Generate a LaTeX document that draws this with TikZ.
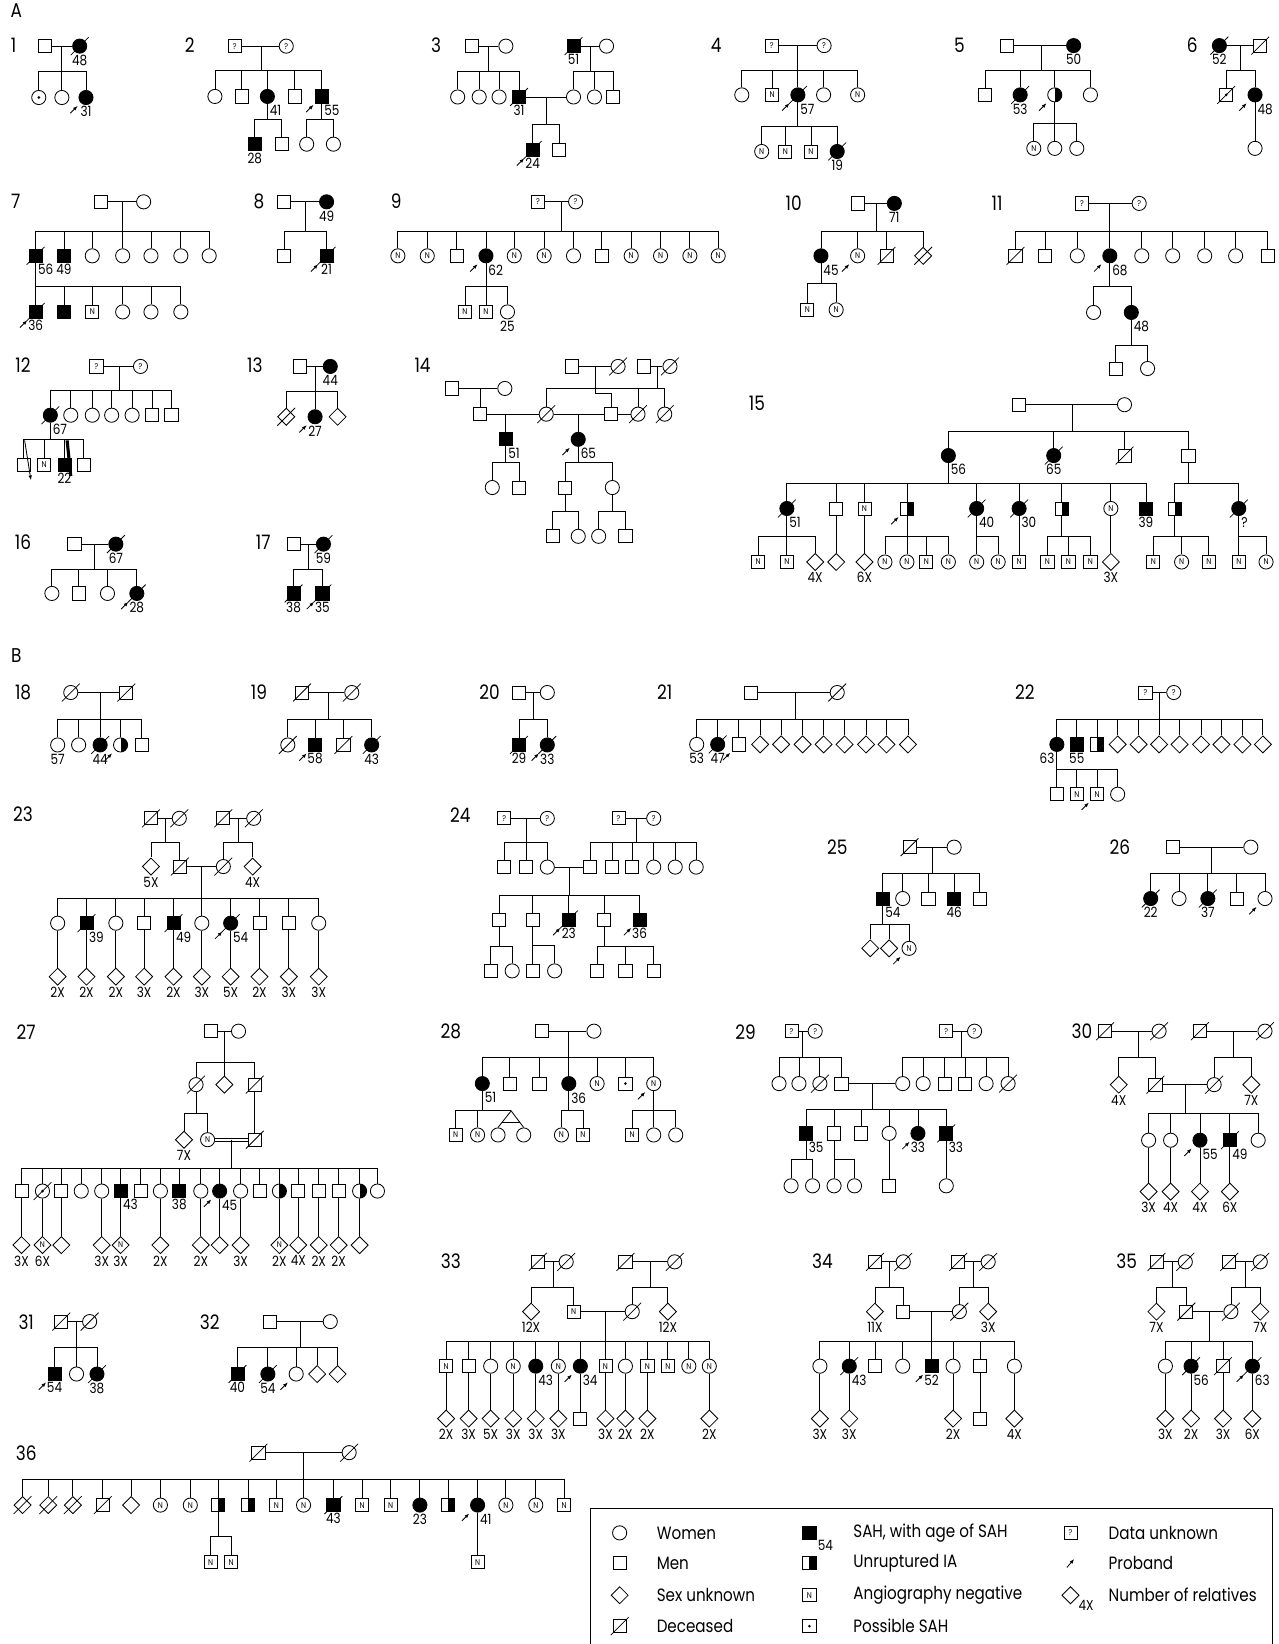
\documentclass[tikz,border=0pt]{standalone}
\usepackage{fontspec}
\setmainfont{Poppins}[FakeStretch=0.85]
\usetikzlibrary{arrows.meta,shapes.geometric,calc}
\newcommand\agef{\fontsize{13.5}{14}\selectfont}
\newcommand\symf{\fontsize{8}{8}\selectfont}
\newcommand\pnf{\fontsize{19}{20}\selectfont}
\newcommand\legf{\fontsize{17}{18}\selectfont}
% sibship: drop from #1 to bar at height #2, then down to each child in #3
\newcommand\sibs[3]{\draw (#1) -- (#1 |- 0,#2) coordinate (sb);
  \foreach \k in {#3} \draw (sb) -| (\k);}

\begin{document}
\begin{tikzpicture}[x=1pt,y=-1pt,line width=0.8pt,
 fe/.style={circle,draw,fill=white,minimum size=13.5pt,inner sep=0pt,font=\symf},
 ma/.style={rectangle,draw,fill=white,minimum size=12.5pt,inner sep=0pt,font=\symf},
 un/.style={diamond,draw,fill=white,minimum size=16.5pt,inner sep=0pt,font=\symf},
 af/.style={fill=black},
 hf/.style={path picture={\fill[black] (path picture bounding box.north) rectangle (path picture bounding box.south east);}},
 dt/.style={path picture={\fill[black] (path picture bounding box.center) circle (1.4pt);}},
 sl/.style={-,line width=0.7pt},
 pa/.style={-{Latex[length=4.5pt,width=3.5pt]},line width=0.8pt},
 de/.style={append after command={($(\tikzlastnode.center)+(-8.5,8.5)$) edge[sl] ($(\tikzlastnode.center)+(8.5,-8.5)$)}},
 pb/.style={append after command={($(\tikzlastnode.center)+(-15,15)$) edge[pa] ($(\tikzlastnode.center)+(-8,8)$)}},
 lab/.style={font=\agef,inner sep=1pt},
 ab/.style={label={[lab]below:#1}},
 ar/.style={label={[lab,anchor=north west,xshift=1pt]south:#1}},
 al/.style={label={[lab,anchor=north east,xshift=-1pt]south:#1}},
 num/.style={font=\pnf,inner sep=0pt},
 leg/.style={font=\legf,anchor=west,inner sep=0pt}]
\useasboundingbox (0,0) rectangle (1219,1568);
\node[num] (hA) at (15.5,10) {A};
\node[num] (hB) at (15.5,625) {B};

% ---------- 1
\node[num] (n1) at (13,43) {1};
\node[ma] (p1a) at (43,44) {};
\node[fe,af,de,ab=48] (p1b) at (76,44) {};
\node[fe,dt] (p1c) at (37,93) {};
\node[fe] (p1d) at (59,93) {};
\node[fe,af,pb,ab=31] (p1e) at (82,93) {};
\coordinate (p1m) at (59,44);
\draw (p1a) -- (p1b);
\sibs{p1m}{68}{p1c,p1d,p1e}

% ---------- 2
\node[num] (n2) at (181,43) {2};
\node[ma] (p2a) at (224,44) {?};
\node[fe] (p2b) at (273,44) {?};
\node[fe] (p2c1) at (205,92) {};
\node[ma] (p2c2) at (230.5,92) {};
\node[fe,af,ar=41] (p2c3) at (255,92) {};
\node[ma] (p2c4) at (281,92) {};
\node[ma,af,pb,ar=55] (p2c5) at (307,92) {};
\node[ma,af,ab=28] (p2g1) at (243,137.5) {};
\node[ma] (p2g2) at (268.5,137.5) {};
\node[fe] (p2g3) at (292.5,137.5) {};
\node[fe] (p2g4) at (318,137.5) {};
\coordinate (p2m) at (249,44);
\draw (p2a) -- (p2b);
\sibs{p2m}{67}{p2c1,p2c2,p2c3,p2c4,p2c5}
\sibs{p2c3.south}{114}{p2g1,p2g2}
\sibs{p2c5.south}{114}{p2g3,p2g4}

% ---------- 3
\node[num] (n3) at (416,43) {3};
\node[ma] (p3a) at (450,44) {};
\node[fe] (p3b) at (482.5,44) {};
\node[ma,af,de,ab=51] (p3d) at (547,44) {};
\node[fe] (p3e) at (578.5,44) {};
\node[fe] (p3c1) at (436.5,92.5) {};
\node[fe] (p3c2) at (457,92.5) {};
\node[fe] (p3c3) at (476,92.5) {};
\node[ma,af,de,ab=31] (p3c4) at (495,92.5) {};
\node[fe] (p3f1) at (547,92.5) {};
\node[fe] (p3f2) at (567,92.5) {};
\node[ma] (p3f3) at (585,92.5) {};
\node[ma,af,de,pb,ab=24] (p3g1) at (508,143) {};
\node[ma] (p3g2) at (533.5,143) {};
\coordinate (p3m1) at (466,44);
\coordinate (p3m2) at (563,44);
\coordinate (p3m3) at (521,92.5);
\draw (p3a) -- (p3b);
\draw (p3d) -- (p3e);
\draw (p3c4) -- (p3f1);
\sibs{p3m1}{68}{p3c1,p3c2,p3c3,p3c4}
\sibs{p3m2}{68}{p3f1,p3f2,p3f3}
\sibs{p3m3}{118.5}{p3g1,p3g2}

% ---------- 4
\node[num] (n4) at (683,43) {4};
\node[ma] (p4a) at (736,43.5) {?};
\node[fe] (p4b) at (786,43.5) {?};
\node[fe] (p4c1) at (707.5,90.5) {};
\node[ma] (p4c2) at (736.5,90.5) {N};
\node[fe,af,de,pb,ar=57] (p4c3) at (761,90.5) {};
\node[fe] (p4c4) at (785.5,90.5) {};
\node[fe] (p4c5) at (818,90.5) {N};
\node[fe] (p4g1) at (726.5,144.5) {N};
\node[ma] (p4g2) at (749,144.5) {N};
\node[ma] (p4g3) at (773.5,144.5) {N};
\node[fe,af,de,ab=19] (p4g4) at (798.5,144.5) {};
\coordinate (p4m) at (761,43.5);
\draw (p4a) -- (p4b);
\sibs{p4m}{67}{p4c1,p4c2,p4c3,p4c4,p4c5}
\sibs{p4c3.south}{121}{p4g1,p4g2,p4g3,p4g4}

% ---------- 5
\node[num] (n5) at (915,43) {5};
\node[ma] (p5a) at (960,43.5) {};
\node[fe,af,ab=50] (p5b) at (1024,43.5) {};
\node[ma] (p5c1) at (939.5,90.5) {};
\node[fe,af,de,ab=53] (p5c2) at (973,90.5) {};
\node[fe,hf,pb] (p5c3) at (1006,90.5) {};
\node[fe] (p5c4) at (1040,90.5) {};
\node[fe] (p5g1) at (986,141.5) {N};
\node[fe] (p5g2) at (1006,141.5) {};
\node[fe] (p5g3) at (1027,141.5) {};
\coordinate (p5m) at (993,43.5);
\draw (p5a) -- (p5b);
\sibs{p5m}{67}{p5c1,p5c2,p5c3,p5c4}
\sibs{p5c3.south}{117.5}{p5g1,p5g2,p5g3}

% ---------- 6
\node[num] (n6) at (1137,43) {6};
\node[fe,af,de,ab=52] (p6a) at (1163,43.5) {};
\node[ma,de] (p6b) at (1202,43.5) {};
\node[ma,de,dt] (p6c1) at (1169.5,90.5) {};
\node[fe,af,pb,ar=48] (p6c2) at (1197,90.5) {};
\node[fe] (p6g1) at (1197,141.5) {};
\coordinate (p6m) at (1183.5,43.5);
\draw (p6a) -- (p6b);
\sibs{p6m}{67.5}{p6c1,p6c2}
\draw (p6c2) -- (p6g1);

% ---------- 7
\node[num] (n7) at (15,192) {7};
\node[ma] (p7a) at (96,192.5) {};
\node[fe] (p7b) at (137,192.5) {};
\node[ma,af,de,ar=56] (p7c1) at (34,244) {};
\node[ma,af,ab=49] (p7c2) at (61,244) {};
\node[fe] (p7c3) at (88,244) {};
\node[fe] (p7c4) at (117,244) {};
\node[fe] (p7c5) at (144,244) {};
\node[fe] (p7c6) at (172.5,244) {};
\node[fe] (p7c7) at (199.5,244) {};
\node[ma,af,de,pb,ab=36] (p7g1) at (34,297.5) {};
\node[ma,af] (p7g2) at (61,297.5) {};
\node[ma] (p7g3) at (88,297.5) {N};
\node[fe] (p7g4) at (117,297.5) {};
\node[fe] (p7g5) at (144,297.5) {};
\node[fe] (p7g6) at (172.5,297.5) {};
\coordinate (p7m) at (117,192.5);
\draw (p7a) -- (p7b);
\sibs{p7m}{221}{p7c1,p7c2,p7c3,p7c4,p7c5,p7c6,p7c7}
\sibs{p7c1.south}{273.5}{p7g1,p7g2,p7g3,p7g4,p7g5,p7g6}

% ---------- 8
\node[num] (n8) at (247,192) {8};
\node[ma] (p8a) at (271,192.5) {};
\node[fe,af,ab=49] (p8b) at (311.5,192.5) {};
\node[ma] (p8c1) at (271,244) {};
\node[ma,af,de,pb,ab=21] (p8c2) at (311.5,244) {};
\coordinate (p8m) at (291.5,192.5);
\draw (p8a) -- (p8b);
\sibs{p8m}{221}{p8c1,p8c2}

% ---------- 9
\node[num] (n9) at (378,192) {9};
\node[ma] (p9a) at (513,192.5) {?};
\node[fe] (p9b) at (549,192.5) {?};
\node[fe] (p9c1) at (379.5,244) {N};
\node[fe] (p9c2) at (407.5,244) {N};
\node[ma] (p9c3) at (435.5,244) {};
\node[fe,af,pb,ar=62] (p9c4) at (463.5,244) {};
\node[fe] (p9c5) at (490.5,244) {N};
\node[fe] (p9c6) at (519,244) {N};
\node[fe] (p9c7) at (547,244) {};
\node[ma] (p9c8) at (574,244) {};
\node[fe] (p9c9) at (602,244) {N};
\node[fe] (p9c10) at (630,244) {N};
\node[fe] (p9c11) at (658,244) {N};
\node[fe] (p9c12) at (685,244) {N};
\node[ma] (p9g1) at (443.5,297.5) {N};
\node[ma] (p9g2) at (463.5,297.5) {N};
\node[fe,ab=25] (p9g3) at (484,297.5) {};
\coordinate (p9m) at (535.5,192.5);
\draw (p9a) -- (p9b);
\sibs{p9m}{221}{p9c1,p9c2,p9c3,p9c4,p9c5,p9c6,p9c7,p9c8,p9c9,p9c10,p9c11,p9c12}
\sibs{p9c4.south}{273.5}{p9g1,p9g2,p9g3}

% ---------- 10
\node[num] (n10) at (757,194) {10};
\node[ma] (p10a) at (818,194) {};
\node[fe,af,ab=71] (p10b) at (853,194) {};
\node[fe,af,ar=45] (p10c1) at (783,244) {};
\node[fe,pb] (p10c2) at (818,244) {N};
\node[ma,de] (p10c3) at (845.5,244) {};
\node[un,de] (p10c4) at (880.5,244) {};
\node[ma] (p10g1) at (770,295.5) {N};
\node[fe] (p10g2) at (797.5,295.5) {N};
\coordinate (p10m) at (835.5,194);
\draw (p10a) -- (p10b);
\sibs{p10m}{221}{p10c1,p10c2,p10c3,p10c4}
\sibs{p10c1.south}{270}{p10g1,p10g2}

% ---------- 11
\node[num] (n11) at (951,194) {11};
\node[ma] (p11a) at (1032,194) {?};
\node[fe] (p11b) at (1086.5,194) {?};
\node[ma,de] (p11c1) at (968.5,244) {};
\node[ma] (p11c2) at (997,244) {};
\node[fe] (p11c3) at (1027.5,244) {};
\node[fe,af,pb,ar=68] (p11c4) at (1058.5,244) {};
\node[fe] (p11c5) at (1089,244) {};
\node[fe] (p11c6) at (1118.5,244) {};
\node[fe] (p11c7) at (1149,244) {};
\node[fe] (p11c8) at (1178.5,244) {};
\node[ma] (p11c9) at (1209,244) {};
\node[fe] (p11g1) at (1043,298) {};
\node[fe,af,ar=48] (p11g2) at (1079,298) {};
\node[ma] (p11h1) at (1064,351.5) {};
\node[fe] (p11h2) at (1094.5,351.5) {};
\coordinate (p11m) at (1058.5,194);
\draw (p11a) -- (p11b);
\sibs{p11m}{221}{p11c1,p11c2,p11c3,p11c4,p11c5,p11c6,p11c7,p11c8,p11c9}
\sibs{p11c4.south}{273.5}{p11g1,p11g2}
\sibs{p11g2.south}{329}{p11h1,p11h2}

% ---------- 12
\node[num] (n12) at (22,348) {12};
\node[ma] (p12a) at (92,349.5) {?};
\node[fe] (p12b) at (134,349.5) {?};
\node[fe,af,de,ar=67] (p12c1) at (48,396) {};
\node[fe] (p12c2) at (67.5,396) {};
\node[fe] (p12c3) at (88,396) {};
\node[fe] (p12c4) at (106.5,396) {};
\node[fe] (p12c5) at (126,396) {};
\node[ma] (p12c6) at (145,396) {};
\node[ma] (p12c7) at (163.5,396) {};
\node[ma] (p12g1) at (22.5,443) {};
\node[ma] (p12g2) at (42,443) {N};
\node[ma,af,ab=22] (p12g3) at (61.5,443) {};
\node[ma] (p12g4) at (80,443) {};
\coordinate (p12m) at (113.5,349.5);
\draw (p12a) -- (p12b);
\sibs{p12m}{372}{p12c1,p12c2,p12c3,p12c4,p12c5,p12c6,p12c7}
\sibs{p12c1.south}{419.5}{p12g1,p12g2,p12g3,p12g4}
\draw[pa] (23.5,420) -- (29.5,458);
\draw[line width=3pt] (64,420) -- (67.5,454);

% ---------- 13
\node[num] (n13) at (243,348) {13};
\node[ma] (p13a) at (286,349.5) {};
\node[fe,af,ab=44] (p13b) at (315,349.5) {};
\node[un,de] (p13c1) at (273,397.5) {};
\node[fe,af,pb,ab=27] (p13c2) at (300.5,397.5) {};
\node[un] (p13c3) at (322,397.5) {};
\coordinate (p13m) at (300.5,349.5);
\draw (p13a) -- (p13b);
\sibs{p13m}{373.5}{p13c1,p13c2,p13c3}

% ---------- 14
\node[num] (n14) at (403,348) {14};
\node[ma] (p14a) at (545.5,349.5) {};
\node[fe,de] (p14b) at (589.5,349.5) {};
\node[ma] (p14c) at (614.5,349.5) {};
\node[fe,de] (p14d) at (639,349.5) {};
\node[ma] (p14e) at (431,370.5) {};
\node[fe] (p14f) at (481.5,370.5) {};
\node[ma] (p14g) at (458,395) {};
\node[fe,de] (p14h) at (521,395) {};
\node[ma] (p14i) at (583,395) {};
\node[fe,de] (p14j) at (608.5,395) {};
\node[fe,de] (p14k) at (634,395) {};
\node[ma,af,ar=51] (p14l) at (482.5,419) {};
\node[fe,af,pb,ar=65] (p14n) at (551.5,419) {};
\node[fe] (p14o) at (469.5,465) {};
\node[ma] (p14p) at (495,465) {};
\node[ma] (p14q) at (539,465) {};
\node[fe] (p14r) at (584,465) {};
\node[ma] (p14s1) at (527,511.5) {};
\node[fe] (p14s2) at (551.5,511.5) {};
\node[fe] (p14s3) at (571,511.5) {};
\node[ma] (p14s4) at (596.5,511.5) {};
\coordinate (p14m1) at (568,349.5);
\coordinate (p14m2) at (627,349.5);
\coordinate (p14m3) at (458,370.5);
\coordinate (p14m4) at (482.5,395);
\coordinate (p14m5) at (551.5,395);
\draw (p14a) -- (p14b);
\draw (p14c) -- (p14d);
\draw (p14e) -- (p14f);
\draw (p14g) -- (p14h);
\draw (p14h) -- (p14i);
\draw (p14i) -- (p14j);
\sibs{p14m2}{370.5}{p14h,p14j,p14k}
\draw (p14m1) -- ++(0,25.5) -| (p14i);
\draw (p14m3) -- (p14g);
\draw (p14m4) -- (p14l);
\draw (p14m5) -- (p14n);
\sibs{p14l.south}{441.5}{p14o,p14p}
\sibs{p14n.south}{441.5}{p14q,p14r}
\sibs{p14q.south}{488}{p14s1,p14s2}
\sibs{p14r.south}{488}{p14s3,p14s4}

% ---------- 15
\node[num] (n15) at (722,385) {15};
\node[ma] (p15a) at (972,386) {};
\node[fe] (p15b) at (1072.5,386) {};
\node[fe,af,ar=56] (p15c1) at (904.5,434.5) {};
\node[fe,af,de,ab=65] (p15c2) at (1005,434.5) {};
\node[ma,de] (p15c3) at (1072.5,434.5) {};
\node[ma] (p15c4) at (1133.5,434.5) {};
\node[fe,af,de,ar=51] (p15d1) at (750.5,485) {};
\node[ma] (p15d2) at (797.5,485) {};
\node[ma] (p15d3) at (824.5,485) {N};
\node[ma,hf,pb] (p15d4) at (865,485) {};
\node[fe,af,de,ar=40] (p15d5) at (931.5,485) {};
\node[fe,af,de,ar=30] (p15d6) at (972,485) {};
\node[ma,hf] (p15d7) at (1012.5,485) {};
\node[fe] (p15d8) at (1059.5,485) {N};
\node[ma,af,ab=39] (p15d9) at (1093,485) {};
\node[ma,hf] (p15d10) at (1120.5,485) {};
\node[fe,af,de,ar=?] (p15d11) at (1181.5,485) {};
\node[ma] (p15e1) at (723,536) {N};
\node[ma] (p15e2) at (750.5,536) {N};
\node[un,ab=4X] (p15e3) at (777.5,536) {};
\node[un] (p15e4) at (797.5,536) {};
\node[un,ab=6X] (p15e5) at (824.5,536) {};
\node[fe] (p15e6) at (844,536) {N};
\node[fe] (p15e7) at (865,536) {N};
\node[ma] (p15e8) at (883.5,536) {N};
\node[fe] (p15e9) at (904.5,536) {N};
\node[fe] (p15e10) at (931.5,536) {N};
\node[fe] (p15e11) at (952,536) {N};
\node[ma] (p15e12) at (972,536) {N};
\node[ma] (p15e13) at (999,536) {N};
\node[ma] (p15e14) at (1019,536) {N};
\node[ma] (p15e15) at (1040,536) {N};
\node[un,ab=3X] (p15e16) at (1059.5,536) {};
\node[ma] (p15e17) at (1100,536) {N};
\node[fe] (p15e18) at (1127,536) {N};
\node[ma] (p15e19) at (1153,536) {N};
\node[ma] (p15e20) at (1181.5,536) {N};
\node[fe] (p15e21) at (1207.5,536) {N};
\coordinate (p15m) at (1022.5,386);
\draw (p15a) -- (p15b);
\sibs{p15m}{411}{p15c1,p15c2,p15c3,p15c4}
\sibs{p15c1.south}{461}{p15d1,p15d2,p15d3,p15d4,p15d5,p15d6,p15d7,p15d8,p15d9}
\sibs{p15c4.south}{461}{p15d10,p15d11}
\sibs{p15d1.south}{511.5}{p15e1,p15e2,p15e3}
\draw (p15d2) -- (p15e4);
\draw (p15d3) -- (p15e5);
\sibs{p15d4.south}{511.5}{p15e6,p15e7,p15e8,p15e9}
\sibs{p15d5.south}{511.5}{p15e10,p15e11}
\draw (p15d6) -- (p15e12);
\sibs{p15d7.south}{511.5}{p15e13,p15e14,p15e15}
\draw (p15d8) -- (p15e16);
\sibs{p15d10.south}{511.5}{p15e17,p15e18,p15e19}
\sibs{p15d11.south}{511.5}{p15e20,p15e21}

% ---------- 16
\node[num] (n16) at (22,517) {16};
\node[ma] (p16a) at (71,519) {};
\node[fe,af,de,ab=67] (p16b) at (110.5,519) {};
\node[fe] (p16c1) at (49.5,566) {};
\node[ma] (p16c2) at (75,566) {};
\node[fe] (p16c3) at (102.5,566) {};
\node[fe,af,de,pb,ab=28] (p16c4) at (130.5,566) {};
\coordinate (p16m) at (90,519);
\draw (p16a) -- (p16b);
\sibs{p16m}{543}{p16c1,p16c2,p16c3,p16c4}

% ---------- 17
\node[num] (n17) at (251,517) {17};
\node[ma] (p17a) at (280,519) {};
\node[fe,af,de,ab=59] (p17b) at (308.5,519) {};
\node[ma,af,de,ab=38] (p17c1) at (280,566) {};
\node[ma,af,de,pb,ab=35] (p17c2) at (307.5,566) {};
\coordinate (p17m) at (294,519);
\draw (p17a) -- (p17b);
\sibs{p17m}{543}{p17c1,p17c2}

% ---------- 18
\node[num] (n18) at (22,660.5) {18};
\node[fe,de] (p18a) at (67.5,660.5) {};
\node[ma,de] (p18b) at (120.5,660.5) {};
\node[fe,ab=57] (p18c1) at (55,710.5) {};
\node[fe] (p18c2) at (75,710.5) {};
\node[fe,af,de,ab=44] (p18c3) at (95.5,710.5) {};
\node[fe,hf,pb] (p18c4) at (115,710.5) {};
\node[ma] (p18c5) at (135,710.5) {};
\coordinate (p18m) at (95.5,660.5);
\draw (p18a) -- (p18b);
\sibs{p18m}{686}{p18c1,p18c2,p18c3,p18c4,p18c5}

% ---------- 19
\node[num] (n19) at (247,660.5) {19};
\node[ma,de] (p19a) at (288,660.5) {};
\node[fe,de] (p19b) at (335.5,660.5) {};
\node[fe,de] (p19c1) at (274.5,710.5) {};
\node[ma,af,pb,ab=58] (p19c2) at (300.5,710.5) {};
\node[ma,de] (p19c3) at (327.5,710.5) {};
\node[fe,af,de,ab=43] (p19c4) at (354.5,710.5) {};
\coordinate (p19m) at (313.5,660.5);
\draw (p19a) -- (p19b);
\sibs{p19m}{686}{p19c1,p19c2,p19c3,p19c4}

% ---------- 20
\node[num] (n20) at (467,660.5) {20};
\node[ma] (p20a) at (495,660.5) {};
\node[fe] (p20b) at (522,660.5) {};
\node[ma,af,de,ab=29] (p20c1) at (495,710.5) {};
\node[fe,af,de,pb,ab=33] (p20c2) at (522,710.5) {};
\coordinate (p20m) at (508.5,660.5);
\draw (p20a) -- (p20b);
\sibs{p20m}{686}{p20c1,p20c2}

% ---------- 21
\node[num] (n21) at (634,660.5) {21};
\node[ma] (p21a) at (716.5,660.5) {};
\node[fe,de] (p21b) at (798.5,660.5) {};
\node[fe,ab=53] (p21c1) at (664.5,710) {};
\node[fe,af,de,ab=47] (p21c2) at (684.5,710) {};
\node[ma,pb] (p21c3) at (704.5,710) {};
\foreach \x [count=\i from 4] in {725,745,765.5,785.5,805.5,826,845.5,866}
  \node[un] (p21c\i) at (\x,710) {};
\coordinate (p21m) at (759,660.5);
\draw (p21a) -- (p21b);
\sibs{p21m}{686}{p21c1,p21c2,p21c3,p21c4,p21c5,p21c6,p21c7,p21c8,p21c9,p21c10,p21c11}

% ---------- 22
\node[num] (n22) at (977.5,660.5) {22};
\node[ma] (p22a) at (1092.5,660.5) {?};
\node[fe] (p22b) at (1119.5,660.5) {?};
\node[fe,af,al=63] (p22c1) at (1008,710) {};
\node[ma,af,ab=55] (p22c2) at (1027,710) {};
\node[ma,hf] (p22c3) at (1046.5,710) {};
\foreach \x [count=\i from 4] in {1066,1086,1105.5,1125,1145.5,1165,1185,1204.5}
  \node[un] (p22c\i) at (\x,710) {};
\node[ma] (p22g1) at (1008,757.5) {};
\node[ma] (p22g2) at (1027,757.5) {N};
\node[ma,pb] (p22g3) at (1046.5,757.5) {N};
\node[fe] (p22g4) at (1066,757.5) {};
\coordinate (p22m) at (1105.5,660.5);
\draw (p22a) -- (p22b);
\sibs{p22m}{686}{p22c1,p22c2,p22c3,p22c4,p22c5,p22c6,p22c7,p22c8,p22c9,p22c10,p22c11}
\sibs{p22c1.south}{734}{p22g1,p22g2,p22g3,p22g4}

% ---------- 23
\node[num] (n23) at (22,777) {23};
\node[ma,de] (p23a) at (144,780.5) {};
\node[fe,de] (p23b) at (171,780.5) {};
\node[ma,de] (p23e) at (213,780.5) {};
\node[fe,de] (p23f) at (242,780.5) {};
\node[un,ab=5X] (p23c) at (144,826.5) {};
\node[ma,de] (p23d) at (171.5,826.5) {};
\node[fe,de] (p23g) at (213,826.5) {};
\node[un,ab=4X] (p23h) at (241,826.5) {};
\node[fe] (p23k1) at (55,880.5) {};
\node[ma,af,de,ar=39] (p23k2) at (82.5,880.5) {};
\node[fe] (p23k3) at (110.5,880.5) {};
\node[ma] (p23k4) at (137.5,880.5) {};
\node[ma,af,de,ar=49] (p23k5) at (165.5,880.5) {};
\node[fe] (p23k6) at (192.5,880.5) {};
\node[fe,af,de,pb,ar=54] (p23k7) at (220,880.5) {};
\node[ma] (p23k8) at (247.5,880.5) {};
\node[ma] (p23k9) at (275.5,880.5) {};
\node[fe] (p23k10) at (304,880.5) {};
\foreach \x/\n [count=\i] in {55/2X,82.5/2X,110.5/2X,137.5/3X,165.5/2X,192.5/3X,220/5X,247.5/2X,275.5/3X,304/3X}
  {\node[un,ab=\n] (p23q\i) at (\x,931.5) {};
   \draw (p23k\i) -- (p23q\i);}
\coordinate (p23m1) at (157.5,780.5);
\coordinate (p23m2) at (227.5,780.5);
\coordinate (p23m3) at (192.5,826.5);
\draw (p23a) -- (p23b);
\draw (p23e) -- (p23f);
\draw (p23d) -- (p23g);
\sibs{p23m1}{803}{p23c,p23d}
\sibs{p23m2}{803}{p23g,p23h}
\sibs{p23m3}{857}{p23k1,p23k2,p23k3,p23k4,p23k5,p23k6,p23k7,p23k8,p23k9,p23k10}

% ---------- 24
\node[num] (n24) at (439,777) {24};
\node[ma] (p24a) at (481,780.5) {?};
\node[fe] (p24b) at (522,780.5) {?};
\node[ma] (p24c1) at (481,827) {};
\node[ma] (p24c2) at (502,827) {};
\node[fe] (p24c3) at (522,827) {};
\node[ma] (p24f) at (590,780.5) {?};
\node[fe] (p24e) at (623.5,780.5) {?};
\node[ma] (p24d1) at (563,827) {};
\node[ma] (p24d2) at (584,827) {};
\node[ma] (p24d3) at (603,827) {};
\node[fe] (p24d4) at (623.5,827) {};
\node[fe] (p24d5) at (644,827) {};
\node[fe] (p24d6) at (664,827) {};
\node[ma] (p24k1) at (476,877) {};
\node[ma] (p24k2) at (508,877) {};
\node[ma,af,de,pb,ab=23] (p24k3) at (542.5,877) {};
\node[ma] (p24k4) at (576,877) {};
\node[ma,af,pb,ab=36] (p24k5) at (610,877) {};
\node[ma] (p24g1) at (468,926) {};
\node[fe] (p24g2) at (488.5,926) {};
\node[ma] (p24g3) at (508,926) {};
\node[fe] (p24g4) at (529,926) {};
\node[ma] (p24g5) at (569.5,926) {};
\node[ma] (p24g6) at (596.5,926) {};
\node[ma] (p24g7) at (623.5,926) {};
\coordinate (p24m1) at (502,780.5);
\coordinate (p24m2) at (607,780.5);
\coordinate (p24m3) at (543,827);
\draw (p24a) -- (p24b);
\draw (p24f) -- (p24e);
\draw (p24c3) -- (p24d1);
\sibs{p24m1}{803}{p24c1,p24c2,p24c3}
\sibs{p24m2}{803}{p24d1,p24d2,p24d3,p24d4,p24d5,p24d6}
\sibs{p24m3}{854}{p24k1,p24k2,p24k3,p24k4,p24k5}
\sibs{p24k1.south}{903}{p24g1,p24g2}
\sibs{p24k2.south}{901.5}{p24g3,p24g4}
\sibs{p24k4.south}{903}{p24g5,p24g6,p24g7}

% ---------- 25
\node[num] (n25) at (798.5,808) {25};
\node[ma,de] (p25a) at (867.5,808) {};
\node[fe] (p25b) at (910,808) {};
\node[ma,af,ar=54] (p25c1) at (842,857) {};
\node[fe] (p25c2) at (861,857) {};
\node[ma] (p25c3) at (885.5,857) {};
\node[ma,af,ab=46] (p25c4) at (910,857) {};
\node[ma] (p25c5) at (934.5,857) {};
\node[un] (p25g1) at (830,904.5) {};
\node[un] (p25g2) at (848,904.5) {};
\node[fe,pb] (p25g3) at (867,904.5) {N};
\coordinate (p25m) at (889,808);
\draw (p25a) -- (p25b);
\sibs{p25m}{833}{p25c1,p25c2,p25c3,p25c4,p25c5}
\sibs{p25c1.south}{881.5}{p25g1,p25g2,p25g3}

% ---------- 26
\node[num] (n26) at (1068,808) {26};
\node[ma] (p26a) at (1118.5,808) {};
\node[fe] (p26b) at (1193,808) {};
\node[fe,af,de,ab=22] (p26c1) at (1097.5,857) {};
\node[fe] (p26c2) at (1124.5,857) {};
\node[fe,af,de,ab=37] (p26c3) at (1152,857) {};
\node[ma] (p26c4) at (1179.5,857) {};
\node[fe,pb] (p26c5) at (1206.5,857) {};
\coordinate (p26m) at (1155.5,808);
\draw (p26a) -- (p26b);
\sibs{p26m}{833}{p26c1,p26c2,p26c3,p26c4,p26c5}

% ---------- 27
\node[num] (n27) at (25,984) {27};
\node[ma] (p27a) at (201.5,983.5) {};
\node[fe] (p27b) at (227.5,983.5) {};
\node[fe,de] (p27c) at (187,1034.5) {};
\node[un] (p27d) at (214,1034.5) {};
\node[ma,de] (p27e) at (243,1034.5) {};
\node[un,ab=7X] (p27f) at (175.5,1087) {};
\node[fe] (p27g) at (198,1087) {N};
\node[ma,de] (p27h) at (243,1087) {};
\node[ma] (p27k1) at (20.5,1136) {};
\node[fe,de,dt] (p27k2) at (40.5,1136) {};
\node[ma] (p27k3) at (58.5,1136) {};
\node[fe] (p27k4) at (77.5,1136) {};
\node[fe] (p27k5) at (97,1136) {};
\node[ma,af,ar=43] (p27k6) at (115,1136) {};
\node[ma] (p27k7) at (134,1136) {};
\node[fe] (p27k8) at (153,1136) {};
\node[ma,af,ab=38] (p27k9) at (171,1136) {};
\node[fe] (p27k10) at (191.5,1136) {};
\node[fe,af,pb,ar=45] (p27k11) at (209.5,1136) {};
\node[fe] (p27k12) at (229.5,1136) {};
\node[ma] (p27k13) at (247.5,1136) {};
\node[fe,hf] (p27k14) at (266.5,1136) {};
\node[ma] (p27k15) at (284.5,1136) {};
\node[ma] (p27k16) at (304,1136) {};
\node[ma] (p27k17) at (323,1136) {};
\node[fe,hf] (p27k18) at (343,1136) {};
\node[fe] (p27k19) at (360,1136) {};
\node[un,ab=3X] (p27q1) at (20.5,1187.5) {};
\node[un,ab=6X] (p27q2) at (40.5,1187.5) {N};
\node[un] (p27q3) at (58.5,1187.5) {};
\node[un,ab=3X] (p27q4) at (97,1187.5) {};
\node[un,ab=3X] (p27q5) at (115,1187.5) {N};
\node[un,ab=2X] (p27q6) at (153,1187.5) {};
\node[un,ab=2X] (p27q7) at (191.5,1187.5) {};
\node[un] (p27q8) at (209.5,1187.5) {};
\node[un,ab=3X] (p27q9) at (229.5,1187.5) {};
\node[un,ab=2X] (p27q10) at (266.5,1187.5) {N};
\node[un,ab=4X] (p27q11) at (284.5,1187.5) {};
\node[un,ab=2X] (p27q12) at (304,1187.5) {};
\node[un,ab=2X] (p27q13) at (323,1187.5) {};
\node[un] (p27q14) at (343,1187.5) {};
\coordinate (p27m1) at (214,983.5);
\coordinate (p27m2) at (220.5,1087);
\draw (p27a) -- (p27b);
\sibs{p27m1}{1013.5}{p27c,p27d,p27e}
\sibs{p27c.south}{1062}{p27f,p27g}
\draw (p27e) -- (p27h);
\draw[double,double distance=2.2pt] (p27g) -- (p27h);
\sibs{p27m2}{1114}{p27k1,p27k2,p27k3,p27k4,p27k5,p27k6,p27k7,p27k8,p27k9,p27k10,p27k11,p27k12,p27k13,p27k14,p27k15,p27k16,p27k17,p27k18,p27k19}
\foreach \a/\b in {k1/q1,k2/q2,k3/q3,k5/q4,k6/q5,k8/q6,k10/q7,k11/q8,k12/q9,k14/q10,k15/q11,k16/q12,k17/q13,k18/q14}
  \draw (p27\a) -- (p27\b);

% ---------- 28
\node[num] (n28) at (430,984) {28};
\node[ma] (p28a) at (517,983.5) {};
\node[fe] (p28b) at (566.5,983.5) {};
\node[fe,af,ar=51] (p28c1) at (460,1033.5) {};
\node[ma] (p28c2) at (486,1033.5) {};
\node[ma] (p28c3) at (514.5,1033.5) {};
\node[fe,af,ar=36] (p28c4) at (542.5,1033.5) {};
\node[fe] (p28c5) at (569.5,1033.5) {N};
\node[ma,dt] (p28c6) at (596.5,1033.5) {};
\node[fe,pb] (p28c7) at (623.5,1033.5) {N};
\node[ma] (p28g1) at (434.5,1082.5) {N};
\node[fe] (p28g2) at (455.5,1082.5) {N};
\node[fe] (p28t1) at (475,1082.5) {};
\node[fe] (p28t2) at (499.5,1082.5) {};
\node[fe] (p28g3) at (535.5,1082.5) {N};
\node[ma] (p28g4) at (556,1082.5) {N};
\node[ma] (p28g5) at (603,1082.5) {N};
\node[fe] (p28g6) at (623.5,1082.5) {};
\node[fe] (p28g7) at (644.5,1082.5) {};
\coordinate (p28m) at (542.5,983.5);
\coordinate (p28ap) at (487.5,1059.5);
\draw (p28a) -- (p28b);
\sibs{p28m}{1008.5}{p28c1,p28c2,p28c3,p28c4,p28c5,p28c6,p28c7}
\sibs{p28c1.south}{1059.5}{p28g1,p28g2}
\draw (p28c1.south |- p28ap) -- (p28ap);
\draw (p28t1.north) -- (p28ap) -- (p28t2.north);
\draw ($(p28ap)!0.7!(p28t1.north)$) -- ($(p28ap)!0.7!(p28t2.north)$);
\sibs{p28c4.south}{1059.5}{p28g3,p28g4}
\sibs{p28c7.south}{1059.5}{p28g5,p28g6,p28g7}

% ---------- 29
\node[num] (n29) at (711,984) {29};
\node[ma] (p29a) at (755,983.5) {?};
\node[fe] (p29b) at (777.5,983.5) {?};
\node[fe] (p29c1) at (743,1033.5) {};
\node[fe] (p29c2) at (762,1033.5) {};
\node[fe,de] (p29c3) at (782,1033.5) {};
\node[ma] (p29c4) at (802.5,1033.5) {};
\node[ma] (p29e) at (902.5,983.5) {?};
\node[fe] (p29f) at (929.5,983.5) {?};
\node[fe] (p29d1) at (861,1033.5) {};
\node[fe] (p29d2) at (880.5,1033.5) {};
\node[ma] (p29d3) at (901,1033.5) {};
\node[ma] (p29d4) at (920.5,1033.5) {};
\node[fe] (p29d5) at (940.5,1033.5) {};
\node[fe,de] (p29d6) at (961.5,1033.5) {};
\node[ma,af,ar=35] (p29k1) at (769,1081) {};
\node[ma] (p29k2) at (795.5,1081) {};
\node[ma] (p29k3) at (821.5,1081) {};
\node[fe] (p29k4) at (848,1081) {};
\node[fe,af,pb,ab=33] (p29k5) at (875.5,1081) {};
\node[ma,af,de,ar=33] (p29k6) at (902.5,1081) {};
\node[fe] (p29g1) at (754.5,1131) {};
\node[fe] (p29g2) at (775,1131) {};
\node[fe] (p29g3) at (795.5,1131) {};
\node[fe] (p29g4) at (815,1131) {};
\node[ma] (p29g5) at (848,1131) {};
\node[fe] (p29g6) at (902.5,1131) {};
\coordinate (p29m1) at (765.5,983.5);
\coordinate (p29m2) at (916.5,983.5);
\coordinate (p29m3) at (832.5,1033.5);
\draw (p29a) -- (p29b);
\draw (p29e) -- (p29f);
\draw (p29c4) -- (p29d1);
\sibs{p29m1}{1008.5}{p29c1,p29c2,p29c3,p29c4}
\sibs{p29m2}{1008.5}{p29d1,p29d2,p29d3,p29d4,p29d5,p29d6}
\sibs{p29m3}{1058}{p29k1,p29k2,p29k3,p29k4,p29k5,p29k6}
\sibs{p29k1.south}{1106}{p29g1,p29g2}
\sibs{p29k2.south}{1106}{p29g3,p29g4}
\draw (p29k4) -- (p29g5);
\draw (p29k6) -- (p29g6);

% ---------- 30
\node[num] (n30) at (1032,984) {30};
\node[ma,de] (p30a) at (1054,983.5) {};
\node[fe,de] (p30b) at (1105.5,983.5) {};
\node[ma,de] (p30e) at (1144.5,983.5) {};
\node[fe,de] (p30f) at (1206.5,983.5) {};
\node[un,ab=4X] (p30c) at (1067,1034.5) {};
\node[ma,de] (p30d) at (1102,1034.5) {};
\node[fe,de] (p30g) at (1158,1034.5) {};
\node[un,ab=7X] (p30h) at (1193.5,1034.5) {};
\node[fe] (p30k1) at (1095.5,1087.5) {};
\node[fe] (p30k2) at (1116.5,1087.5) {};
\node[fe,af,pb,ar=55] (p30k3) at (1144.5,1087.5) {};
\node[ma,af,de,ar=49] (p30k4) at (1173,1087.5) {};
\node[fe] (p30k5) at (1200,1087.5) {};
\node[un,ab=3X] (p30q1) at (1095.5,1136.5) {};
\node[un,ab=4X] (p30q2) at (1116.5,1136.5) {};
\node[un,ab=4X] (p30q3) at (1144.5,1136.5) {};
\node[un,ab=6X] (p30q4) at (1173,1136.5) {};
\coordinate (p30m1) at (1085.5,983.5);
\coordinate (p30m2) at (1176,983.5);
\coordinate (p30m3) at (1130.5,1034.5);
\draw (p30a) -- (p30b);
\draw (p30e) -- (p30f);
\draw (p30d) -- (p30g);
\sibs{p30m1}{1008.5}{p30c,p30d}
\sibs{p30m2}{1008.5}{p30g,p30h}
\sibs{p30m3}{1062}{p30k1,p30k2,p30k3,p30k4,p30k5}
\foreach \i in {1,...,4} \draw (p30k\i) -- (p30q\i);

% ---------- 31
\node[num] (n31) at (25,1261) {31};
\node[ma,de] (p31a) at (58.5,1260.5) {};
\node[fe,de] (p31b) at (85.5,1260.5) {};
\node[ma,af,pb,ab=54] (p31c1) at (52,1310.5) {};
\node[fe] (p31c2) at (73,1310.5) {};
\node[fe,af,de,ab=38] (p31c3) at (92.5,1310.5) {};
\coordinate (p31m) at (73,1260.5);
\draw (p31a) -- (p31b);
\sibs{p31m}{1285.5}{p31c1,p31c2,p31c3}

% ---------- 32
\node[num] (n32) at (200,1261) {32};
\node[ma] (p32a) at (257.5,1260.5) {};
\node[fe] (p32b) at (315,1260.5) {};
\node[ma,af,de,ab=40] (p32c1) at (226.5,1310.5) {};
\node[fe,af,de,ab=54] (p32c2) at (255.5,1310.5) {};
\node[fe,pb] (p32c3) at (282.5,1310.5) {};
\node[un] (p32c4) at (302.5,1310.5) {};
\node[un] (p32c5) at (322,1310.5) {};
\coordinate (p32m) at (287,1260.5);
\draw (p32a) -- (p32b);
\sibs{p32m}{1285.5}{p32c1,p32c2,p32c3,p32c4,p32c5}

% ---------- 33
\node[num] (n33) at (430,1203) {33};
\node[ma,de] (p33a) at (513,1203.5) {};
\node[fe,de] (p33b) at (540,1203.5) {};
\node[ma,de] (p33e) at (596.5,1203.5) {};
\node[fe,de] (p33f) at (643.5,1203.5) {};
\node[un,ab=12X] (p33c) at (506.5,1251) {};
\node[ma] (p33d) at (547,1251) {N};
\node[fe,de] (p33g) at (603,1251) {};
\node[un,ab=12X] (p33h) at (637,1251) {};
\node[ma] (p33k1) at (425.5,1303) {N};
\node[ma] (p33k2) at (447,1303) {};
\node[fe] (p33k3) at (468,1303) {};
\node[fe] (p33k4) at (489.5,1303) {N};
\node[fe,af,ar=43] (p33k5) at (511,1303) {};
\node[fe] (p33k6) at (532.5,1303) {N};
\node[fe,af,pb,ar=34] (p33k7) at (553.5,1303) {};
\node[ma] (p33k8) at (577.5,1303) {N};
\node[fe] (p33k9) at (596.5,1303) {};
\node[ma] (p33k10) at (617.5,1303) {N};
\node[ma] (p33k11) at (637,1303) {N};
\node[fe] (p33k12) at (657,1303) {N};
\node[fe] (p33k13) at (676.5,1303) {N};
\node[un,ab=2X] (p33q1) at (425.5,1353) {};
\node[un,ab=3X] (p33q2) at (447,1353) {};
\node[un,ab=5X] (p33q3) at (468,1353) {};
\node[un,ab=3X] (p33q4) at (489.5,1353) {};
\node[un,ab=3X] (p33q5) at (511,1353) {};
\node[un,ab=3X] (p33q6) at (532.5,1353) {};
\node[ma] (p33q7) at (553.5,1353) {};
\node[un,ab=3X] (p33q8) at (577.5,1353) {};
\node[un,ab=2X] (p33q9) at (596.5,1353) {};
\node[un,ab=2X] (p33q10) at (617.5,1353) {};
\node[un,ab=2X] (p33q11) at (676.5,1353) {};
\coordinate (p33m1) at (528,1203.5);
\coordinate (p33m2) at (620.5,1203.5);
\coordinate (p33m3) at (577.5,1251);
\draw (p33a) -- (p33b);
\draw (p33e) -- (p33f);
\draw (p33d) -- (p33g);
\sibs{p33m1}{1227.5}{p33c,p33d}
\sibs{p33m2}{1227.5}{p33g,p33h}
\sibs{p33m3}{1279}{p33k1,p33k2,p33k3,p33k4,p33k5,p33k6,p33k7,p33k8,p33k9,p33k10,p33k11,p33k12,p33k13}
\foreach \i in {1,...,10} \draw (p33k\i) -- (p33q\i);
\draw (p33k13) -- (p33q11);

% ---------- 34
\node[num] (n34) at (784.5,1203) {34};
\node[ma,de] (p34a) at (834.5,1203.5) {};
\node[fe,de] (p34b) at (861.5,1203.5) {};
\node[ma,de] (p34e) at (914,1203.5) {};
\node[fe,de] (p34f) at (942.5,1203.5) {};
\node[un,ab=11X] (p34c) at (834.5,1251) {};
\node[ma] (p34d) at (861.5,1251) {};
\node[fe,de] (p34g) at (915,1251) {};
\node[un,ab=3X] (p34h) at (942.5,1251) {};
\node[fe] (p34k1) at (782,1303) {};
\node[fe,af,de,ar=43] (p34k2) at (810,1303) {};
\node[ma] (p34k3) at (834.5,1303) {};
\node[fe] (p34k4) at (861,1303) {};
\node[ma,af,pb,ab=52] (p34k5) at (888.5,1303) {};
\node[fe] (p34k6) at (909,1303) {};
\node[ma] (p34k7) at (935,1303) {};
\node[fe] (p34k8) at (967.5,1303) {};
\node[un,ab=3X] (p34q1) at (782,1353) {};
\node[un,ab=3X] (p34q2) at (810,1353) {};
\node[un,ab=2X] (p34q3) at (909,1353) {};
\node[ma] (p34q4) at (935,1353) {};
\node[un,ab=4X] (p34q5) at (967.5,1353) {};
\coordinate (p34m1) at (848.5,1203.5);
\coordinate (p34m2) at (928.5,1203.5);
\coordinate (p34m3) at (888.5,1251);
\draw (p34a) -- (p34b);
\draw (p34e) -- (p34f);
\draw (p34d) -- (p34g);
\sibs{p34m1}{1227.5}{p34c,p34d}
\sibs{p34m2}{1227.5}{p34g,p34h}
\sibs{p34m3}{1279}{p34k1,p34k2,p34k3,p34k4,p34k5,p34k6,p34k7,p34k8}
\foreach \a/\b in {k1/q1,k2/q2,k6/q3,k7/q4,k8/q5} \draw (p34\a) -- (p34\b);

% ---------- 35
\node[num] (n35) at (1074.5,1203) {35};
\node[ma,de] (p35a) at (1103,1203.5) {};
\node[fe,de] (p35b) at (1130.5,1203.5) {};
\node[ma,de] (p35e) at (1172.5,1203.5) {};
\node[fe,de] (p35f) at (1202,1203.5) {};
\node[un,ab=7X] (p35c) at (1103,1251) {};
\node[ma,de] (p35d) at (1131.5,1251) {};
\node[fe,de] (p35g) at (1174,1251) {};
\node[un,ab=7X] (p35h) at (1202,1251) {};
\node[fe] (p35k1) at (1111.5,1303) {};
\node[fe,af,de,ar=56] (p35k2) at (1136,1303) {};
\node[ma,de] (p35k3) at (1166.5,1303) {};
\node[fe,af,de,pb,ar=63] (p35k4) at (1194.5,1303) {};
\node[un,ab=3X] (p35q1) at (1111.5,1353) {};
\node[un,ab=2X] (p35q2) at (1136,1353) {};
\node[un,ab=3X] (p35q3) at (1166.5,1353) {};
\node[un,ab=6X] (p35q4) at (1194.5,1353) {};
\coordinate (p35m1) at (1118,1203.5);
\coordinate (p35m2) at (1188,1203.5);
\coordinate (p35m3) at (1153.5,1251);
\draw (p35a) -- (p35b);
\draw (p35e) -- (p35f);
\draw (p35d) -- (p35g);
\sibs{p35m1}{1227.5}{p35c,p35d}
\sibs{p35m2}{1227.5}{p35g,p35h}
\sibs{p35m3}{1279}{p35k1,p35k2,p35k3,p35k4}
\foreach \i in {1,...,4} \draw (p35k\i) -- (p35q\i);

% ---------- 36
\node[num] (n36) at (25,1386) {36};
\node[ma,de] (p36a) at (246.5,1385.5) {};
\node[fe,de] (p36b) at (333,1385.5) {};
\node[un,de] (p36k1) at (21.5,1435.5) {};
\node[un,de] (p36k2) at (46,1435.5) {};
\node[un,de] (p36k3) at (69.5,1435.5) {};
\node[ma,de] (p36k4) at (98,1435.5) {};
\node[un] (p36k5) at (125,1435.5) {};
\node[fe] (p36k6) at (153,1435.5) {N};
\node[fe] (p36k7) at (181.5,1435.5) {N};
\node[ma,hf] (p36k8) at (208,1435.5) {};
\node[ma,hf] (p36k9) at (236.5,1435.5) {};
\node[ma] (p36k10) at (263.5,1435.5) {N};
\node[fe] (p36k11) at (289.5,1435.5) {N};
\node[ma,af,de,ab=43] (p36k12) at (318,1435.5) {};
\node[ma] (p36k13) at (345.5,1435.5) {N};
\node[ma] (p36k14) at (372.5,1435.5) {N};
\node[fe,af,ab=23] (p36k15) at (400.5,1435.5) {};
\node[ma,hf] (p36k16) at (427.5,1435.5) {};
\node[fe,af,pb,ar=41] (p36k17) at (455.5,1435.5) {};
\node[fe] (p36k18) at (482.5,1435.5) {N};
\node[fe] (p36k19) at (511,1435.5) {N};
\node[ma] (p36k20) at (538,1435.5) {N};
\node[ma] (p36g1) at (201,1490) {N};
\node[ma] (p36g2) at (220.5,1490) {N};
\node[ma] (p36g3) at (455.5,1490) {N};
\coordinate (p36m) at (289.5,1385.5);
\draw (p36a) -- (p36b);
\sibs{p36m}{1411}{p36k1,p36k2,p36k3,p36k4,p36k5,p36k6,p36k7,p36k8,p36k9,p36k10,p36k11,p36k12,p36k13,p36k14,p36k15,p36k16,p36k17,p36k18,p36k19,p36k20}
\sibs{p36k8.south}{1465}{p36g1,p36g2}
\draw (p36k17) -- (p36g3);

% ---------- legend
\draw (563.5,1569) |- (1213.5,1439) -- (1213.5,1569);
\node[fe] (l1) at (591,1462) {};
\node[ma] (l2) at (591,1491) {};
\node[un] (l3) at (591,1521.5) {};
\node[ma,de] (l4) at (591,1551) {};
\node[ma,af,label={[lab,anchor=north west,inner sep=0pt,xshift=1pt]south east:54}] (l5) at (772,1462) {};
\node[ma,hf] (l6) at (772,1491) {};
\node[ma] (l7) at (772,1521.5) {N};
\node[ma,dt] (l8) at (772,1551) {};
\node[ma] (l9) at (1021,1462) {?};
\coordinate (l10) at (1021,1491);
\node[un,label={[lab,anchor=north west,inner sep=0pt,xshift=3pt]south east:4X}] (l11) at (1021,1521.5) {};
\draw[pa] ($(l10)+(-3.5,4)$) -- ($(l10)+(3.5,-4)$);
\node[leg] (t1) at (626,1462) {Women};
\node[leg] (t2) at (626,1491) {Men};
\node[leg] (t3) at (626,1521.5) {Sex unknown};
\node[leg] (t4) at (626,1551) {Deceased};
\node[leg] (t5) at (813.5,1462) {SAH, with age of SAH};
\node[leg] (t6) at (813.5,1491) {Unruptured IA};
\node[leg] (t7) at (813.5,1521.5) {Angiography negative};
\node[leg] (t8) at (813.5,1551) {Possible SAH};
\node[leg] (t9) at (1057,1462) {Data unknown};
\node[leg] (t10) at (1057,1491) {Proband};
\node[leg] (t11) at (1057,1521.5) {Number of relatives};
\end{tikzpicture}
\end{document}
